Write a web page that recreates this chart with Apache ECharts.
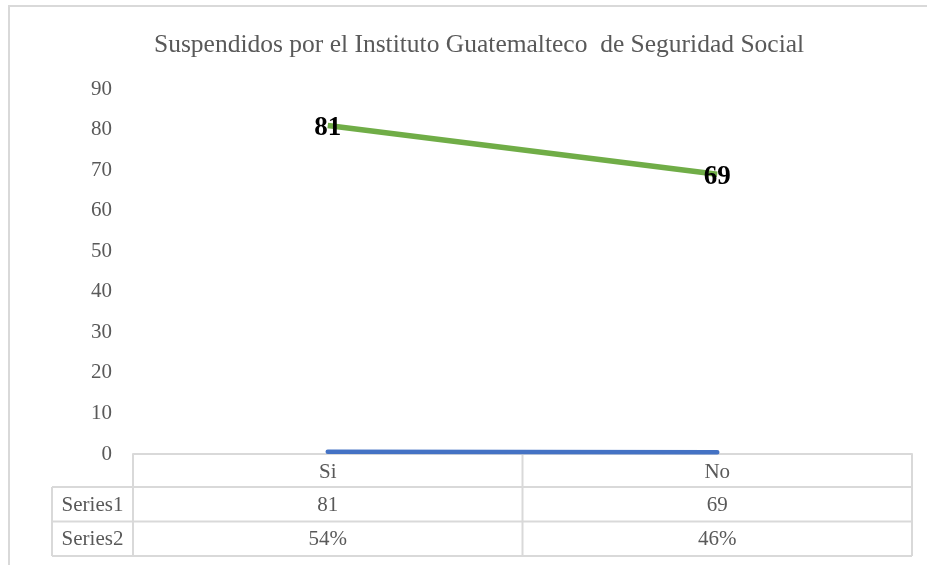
<!DOCTYPE html>
<html>
<head>
<meta charset="utf-8">
<script src="https://cdn.jsdelivr.net/npm/echarts@6/dist/echarts.min.js"></script>
<style>html,body{margin:0;padding:0;background:#fff}#c{width:927px;height:565px}</style>
</head>
<body>
<div id="c"></div>
<script>
var titleText = 'Suspendidos por el Instituto Guatemalteco  de Seguridad Social';
var categories = ['Si', 'No'];
var series1 = [81, 69];
var series2 = [0.54, 0.46];
var seriesNames = ['Series1', 'Series2'];
var yMin = 0, yMax = 90, yStep = 10;

var FONT = '"Liberation Serif", "Times New Roman", serif';
var GREY = '#595959';
var LINE = '#d9d9d9';

var chart = echarts.init(document.getElementById('c'));
var option = {
  animation: false,
  title: {
    text: titleText, left: 149, top: 27,
    textStyle: {fontFamily: FONT, fontSize: 25.5, fontWeight: 'normal', color: GREY}
  },
  grid: {left: 133, right: 15, top: 89, bottom: 111},
  xAxis: {
    type: 'category', data: categories, boundaryGap: true,
    axisLine: {show: true, lineStyle: {color: LINE, width: 2}},
    axisTick: {show: false},
    axisLabel: {fontFamily: FONT, fontSize: 21, color: GREY, margin: 8}
  },
  yAxis: {
    type: 'value', min: yMin, max: yMax, interval: yStep,
    axisLine: {show: false}, axisTick: {show: false},
    splitLine: {show: false},
    axisLabel: {fontFamily: FONT, fontSize: 21, color: GREY, margin: 21}
  },
  series: [
    {
      name: seriesNames[0], type: 'line', data: series1,
      symbol: 'circle', symbolSize: 1, showSymbol: true,
      itemStyle: {color: '#70AD47', opacity: 0},
      lineStyle: {color: '#70AD47', width: 5.5},
      label: {show: true, position: 'inside', offset: [0, 3], fontFamily: FONT, fontSize: 27, fontWeight: 'bold', color: '#000', opacity: 1}
    },
    {
      name: seriesNames[1], type: 'line', data: series2, symbol: 'none',
      lineStyle: {color: '#4472C4', width: 4.5, cap: 'round'}
    }
  ]
};
chart.setOption(option);

// Build data table under the axis from axis positions
var y0 = chart.convertToPixel({yAxisIndex: 0}, 0);
var cx = categories.map(function (c) { return chart.convertToPixel({xAxisIndex: 0}, c); });
var band = cx.length > 1 ? cx[1] - cx[0] : 200;
var xs = [cx[0] - band / 2];
cx.forEach(function (x) { xs.push(x + band / 2); });
var rowH = 34.5;
var tableLeft = 52;
var r1 = y0 + 33, r2 = r1 + rowH, r3 = r2 + rowH;
var g = [];
function hline(y, x1, x2) { g.push({type: 'line', shape: {x1: x1, y1: y, x2: x2, y2: y}, style: {stroke: LINE, lineWidth: 2}}); }
function vline(x, y1, y2) { g.push({type: 'line', shape: {x1: x, y1: y1, x2: x, y2: y2}, style: {stroke: LINE, lineWidth: 2}}); }
function txt(x, y, t) { g.push({type: 'text', x: x, y: y, style: {text: t, fill: GREY, font: '21px ' + FONT, textAlign: 'center', textVerticalAlign: 'middle'}}); }
// outer frame
g.push({type: 'rect', shape: {x: 9, y: 6, width: 940, height: 600}, style: {fill: 'none', stroke: LINE, lineWidth: 2}});
hline(r1, tableLeft, xs[xs.length - 1]);
hline(r2, tableLeft, xs[xs.length - 1]);
hline(r3, tableLeft, xs[xs.length - 1]);
xs.forEach(function (x) { vline(x, y0, r3); });
vline(tableLeft, r1, r3);
txt((tableLeft + xs[0]) / 2, (r1 + r2) / 2 + 1, seriesNames[0]);
txt((tableLeft + xs[0]) / 2, (r2 + r3) / 2 + 1, seriesNames[1]);
cx.forEach(function (x, i) {
  txt(x, (r1 + r2) / 2 + 1, String(series1[i]));
  txt(x, (r2 + r3) / 2 + 1, Math.round(series2[i] * 100) + '%');
});
chart.setOption({graphic: {elements: g}});
</script>
</body>
</html>
